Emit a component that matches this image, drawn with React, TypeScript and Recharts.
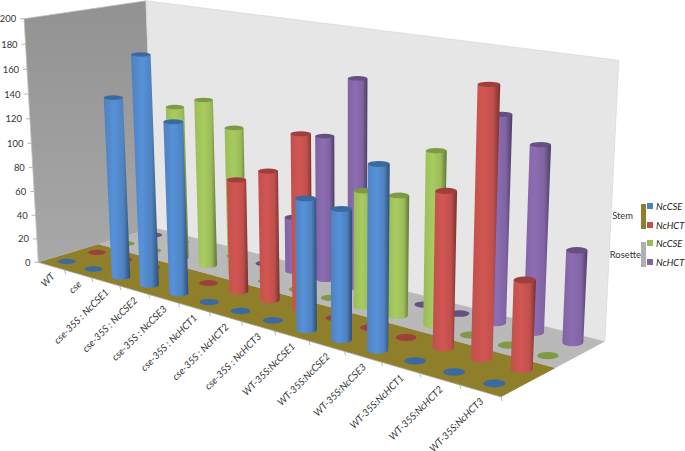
import React from 'react';
import { ScatterChart, Scatter, XAxis, YAxis, Legend } from 'recharts';

const W = 685, H = 451;
const PLOT_LEFT = 1, PLOT_W = W - 1, PLOT_H = H - 2;
const categories = ['WT','cse','cse-35S : NcCSE1','cse-35S : NcCSE2','cse-35S : NcCSE3','cse-35S : NcHCT1','cse-35S : NcHCT2','cse-35S : NcHCT3','WT-35S:NcCSE1','WT-35S:NcCSE2','WT-35S:NcCSE3','WT-35S:NcHCT1','WT-35S:NcHCT2','WT-35S:NcHCT3'];
const depthLabels = ['NcCSE','NcHCT','NcCSE','NcHCT'];
const stemCSE = [0,0,145,182,135,0,0,0,98,96,133,0,0,0];
const stemHCT = [0,0,0,0,0,89,101,134,0,0,0,113,190,63];
const rosetteCSE = [0,0,127,137,119,0,0,0,90,92,130,0,0,0];
const rosetteHCT = [0,0,0,0,0,45,116,165,0,0,0,155,138,68];
const yTicks = [0,20,40,60,80,100,120,140,160,180,200];
const palette = [
  { id:'blue', base:'#4F81BD', light:'#5692DA', dark:'#2C4E78', cap:'#3A6A9F' },
  { id:'red', base:'#C0504D', light:'#D25652', dark:'#7A302E', cap:'#9F3F3D' },
  { id:'green', base:'#9BBB59', light:'#A8CC60', dark:'#5F7533', cap:'#7E9A44' },
  { id:'purple', base:'#8064A2', light:'#8C6DB3', dark:'#4D3C63', cap:'#66507F' },
];

// camera calibration: [u, w, h, screenX, screenY]
const calib: number[][] = [
  ...[[37,262],[63,271],[91,279],[119,287],[148,295],[178,304],[209,313],[242,322],[275,332],[308,342],[344,352],[382,362],[420,374],[460,385],[500,395]].map((p,i)=>[i/14,0,0,p[0],p[1]]),
  [0,1,0,145,230],[1,1,0,605,343],[1,.5,0,555,368],[0,.5,0,110,241],
  [.5/14,.125,0,65,260],[13.5/14,.125,0,495,382],[.5/14,.375,0,95,252],[13.5/14,.375,0,523,367],
  [.5/14,.625,0,129,243],[13.5/14,.625,0,548,356],[.5/14,.875,0,157,234],[13.5/14,.875,0,573,342],
  [0,0,1,25,18],[0,1,1,145,1],[1,1,1,619,61],
];
function solve(A: number[][], b: number[]) {
  const n = b.length; const M = A.map((r,i)=>[...r,b[i]]);
  for (let c=0;c<n;c++){ let k=c; for(let r=c+1;r<n;r++) if(Math.abs(M[r][c])>Math.abs(M[k][c])) k=r;
    [M[c],M[k]]=[M[k],M[c]];
    for(let r=0;r<n;r++){ if(r===c) continue; const f=M[r][c]/M[c][c]; for(let j=c;j<=n;j++) M[r][j]-=f*M[c][j]; } }
  return M.map((r,i)=>r[n]/r[i]);
}
function fitCamera() {
  const rows:number[][]=[]; const rhs:number[]=[];
  for (const [u,w,h,x,y] of calib) {
    rows.push([u,w,h,1,0,0,0,0,-x*u,-x*w,-x*h]); rhs.push(x);
    rows.push([0,0,0,0,u,w,h,1,-y*u,-y*w,-y*h]); rhs.push(y);
  }
  const n=11; const N=Array.from({length:n},()=>new Array(n).fill(0)); const B=new Array(n).fill(0);
  rows.forEach((r,k)=>{ for(let i=0;i<n;i++){ B[i]+=r[i]*rhs[k]; for(let j=0;j<n;j++) N[i][j]+=r[i]*r[j]; } });
  return solve(N,B);
}
const cam = fitCamera();
const den = (u:number,w:number,h:number)=>cam[8]*u+cam[9]*w+cam[10]*h+1;
function project(u:number,w:number,h:number){ const d=den(u,w,h);
  return { x:(cam[0]*u+cam[1]*w+cam[2]*h+cam[3])/d, y:(cam[4]*u+cam[5]*w+cam[6]*h+cam[7])/d, d }; }
const pts = (a:number[][]) => a.map(p=>{const q=project(p[0],p[1],p[2]);return `${q.x},${q.y}`;}).join(' ');

const FONT = 'Lato, sans-serif';
const FS = 9.4;
const FS_AXIS = 9.8;
const radiusAt = (d:number)=>9/d;
const flat = (rx:number,y:number)=>rx*(0.2+0.0004*y);

const Background = () => (
  <g>
    <defs>
      {palette.map(c=>(
        <linearGradient key={c.id} id={`g-${c.id}`} x1="0" x2="1" y1="0" y2="0">
          <stop offset="0" stopColor={c.base} />
          <stop offset="0.4" stopColor={c.light} />
          <stop offset="0.75" stopColor={c.base} />
          <stop offset="1" stopColor={c.dark} />
        </linearGradient>
      ))}
      <linearGradient id="leftWall" x1="0" x2="0" y1="0" y2="1">
        <stop offset="0" stopColor="#929292" /><stop offset="1" stopColor="#a8a8a8" />
      </linearGradient>
    </defs>
    <polygon points={pts([[0,0,0],[0,1,0],[0,1,1],[0,0,1]])} fill="url(#leftWall)" stroke="#bdbdbd" strokeWidth={0.8} />
    <polygon points={pts([[0,1,0],[1,1,0],[1,1,1],[0,1,1]])} fill="#e6e6e6" stroke="#d9d9d9" strokeWidth={0.8} />
    <polygon points={pts([[0,.5,0],[1,.5,0],[1,1,0],[0,1,0]])} fill="#b9b9b9" />
    <polygon points={pts([[0,0,0],[1,0,0],[1,.5,0],[0,.5,0]])} fill="#8F7F2B" />
  </g>
);

const makeCylinder = (series:number) => (props:any) => {
  const c = palette[series];
  const u = (props.cx - PLOT_LEFT) / PLOT_W;
  const h = (PLOT_H - props.cy) / PLOT_H;
  const w = (series + 0.5) / 4;
  const b = project(u,w,0);
  const rb = radiusAt(b.d), ryb = flat(rb,b.y);
  if (h <= 0.001) return <ellipse cx={b.x} cy={b.y} rx={rb} ry={ryb} fill={c.cap} />;
  const t = project(u,w,h);
  const rt = radiusAt(t.d), ryt = flat(rt,t.y);
  return (
    <g>
      <path d={`M${t.x-rt},${t.y} L${b.x-rb},${b.y} A${rb},${ryb} 0 0 0 ${b.x+rb},${b.y} L${t.x+rt},${t.y} Z`} fill={`url(#g-${c.id})`} />
      <ellipse cx={t.x} cy={t.y} rx={rt} ry={ryt} fill={c.cap} />
    </g>
  );
};

const CategoryTick = (props:any) => {
  const i = props.payload.value as number;
  const e = project((i+.5)/14,0,0);
  const a = project(i/14,0,0);
  const z = project((i+1)/14,0,0);
  return (
    <g>
      <line x1={a.x} y1={a.y} x2={z.x} y2={z.y} stroke="#a6a6a6" strokeWidth={0.8} />
      <line x1={z.x} y1={z.y} x2={z.x+1} y2={z.y+4} stroke="#a6a6a6" strokeWidth={0.8} />
      <text x={e.x+4} y={e.y+11} transform={`rotate(-45 ${e.x+4} ${e.y+11})`} textAnchor="end" fontFamily={FONT} fontSize={FS_AXIS} fontStyle="italic" fill="#333">{categories[i]}</text>
    </g>
  );
};
const DepthTick = (props:any) => {
  const j = props.payload.value as number;
  const e = project(1,(j+.5)/4,0);
  const a = project(1,j/4,0);
  const z = project(1,(j+1)/4,0);
  return (
    <g>
      <line x1={a.x} y1={a.y} x2={z.x} y2={z.y} stroke="#a6a6a6" strokeWidth={0.8} />
      <line x1={z.x} y1={z.y} x2={z.x+3} y2={z.y+2} stroke="#a6a6a6" strokeWidth={0.8} />
      <text x={e.x+6} y={e.y+12} transform={`rotate(-45 ${e.x+6} ${e.y+12})`} textAnchor="end" fontFamily={FONT} fontSize={FS_AXIS} fill="#333">{depthLabels[j]}</text>
    </g>
  );
};
const ValueTick = (props:any) => {
  const v = props.payload.value as number;
  const p = project(0,0,v/200);
  return (
    <g>
      <line x1={p.x-4} y1={p.y} x2={p.x} y2={p.y} stroke="#a6a6a6" strokeWidth={0.8} />
      <text x={p.x-8} y={p.y+3.5} textAnchor="end" fontFamily={FONT} fontSize={FS} fill="#333">{v}</text>
    </g>
  );
};

const legendGroups = [
  { title:'Stem', tx:633, ty:219, bar:'#8F7F2B', barY:204, items:[{n:'NcCSE',c:'#4F81BD',y:206},{n:'NcHCT',c:'#C0504D',y:225}] },
  { title:'Rosette', tx:641, ty:258, bar:'#b0b0b0', barY:242, items:[{n:'NcCSE',c:'#9BBB59',y:243},{n:'NcHCT',c:'#8064A2',y:262}] },
];
const LegendBox = () => (
  <svg width={W} height={H} style={{position:'absolute',left:0,top:0,pointerEvents:'none'}}>
    {legendGroups.map(g=>(
      <g key={g.title}>
        <text x={g.tx} y={g.ty} textAnchor="end" fontFamily={FONT} fontSize={FS} fill="#333">{g.title}</text>
        <rect x={641} y={g.barY} width={5} height={25} fill={g.bar} />
        {g.items.map(it=>(
          <g key={it.y}>
            <rect x={647} y={it.y-3} width={6} height={6} fill={it.c} />
            <text x={656} y={it.y+3.5} fontFamily={FONT} fontSize={FS} fontStyle="italic" fill="#222">{it.n}</text>
          </g>
        ))}
      </g>
    ))}
  </svg>
);

const toRows = (vals:number[]) => vals.map((v,i)=>({ cat:i, value:v }));
const series = [
  { name:'Rosette NcHCT', vals:rosetteHCT, idx:3 },
  { name:'Rosette NcCSE', vals:rosetteCSE, idx:2 },
  { name:'Stem NcHCT', vals:stemHCT, idx:1 },
  { name:'Stem NcCSE', vals:stemCSE, idx:0 },
];

export default function App() {
  return (
    <div style={{position:'absolute',left:0,top:0,width:W,height:H,background:'#fff'}}>
      <ScatterChart width={W} height={H} margin={{top:0,right:0,bottom:0,left:0}}>
        <XAxis xAxisId={0} type="number" dataKey="cat" domain={[-0.5,13.5]} ticks={categories.map((_,i)=>i)} interval={0} height={1} axisLine={false} tickLine={false} tick={CategoryTick} />
        <XAxis xAxisId="depth" type="number" domain={[-0.5,3.5]} ticks={[0,1,2,3]} interval={0} height={1} axisLine={false} tickLine={false} tick={DepthTick} />
        <YAxis type="number" dataKey="value" domain={[0,200]} ticks={yTicks} interval={0} width={1} axisLine={false} tickLine={false} tick={ValueTick} />
        <Legend layout="vertical" align="center" verticalAlign="middle" content={LegendBox} wrapperStyle={{position:'absolute',left:0,top:0,width:W,height:H}} />
        <Scatter name="walls" data={[{cat:0,value:0}]} shape={Background} isAnimationActive={false} legendType="none" />
        {series.map(s=>(
          <Scatter key={s.name} name={s.name} data={toRows(s.vals)} shape={makeCylinder(s.idx)} isAnimationActive={false} />
        ))}
      </ScatterChart>
    </div>
  );
}
